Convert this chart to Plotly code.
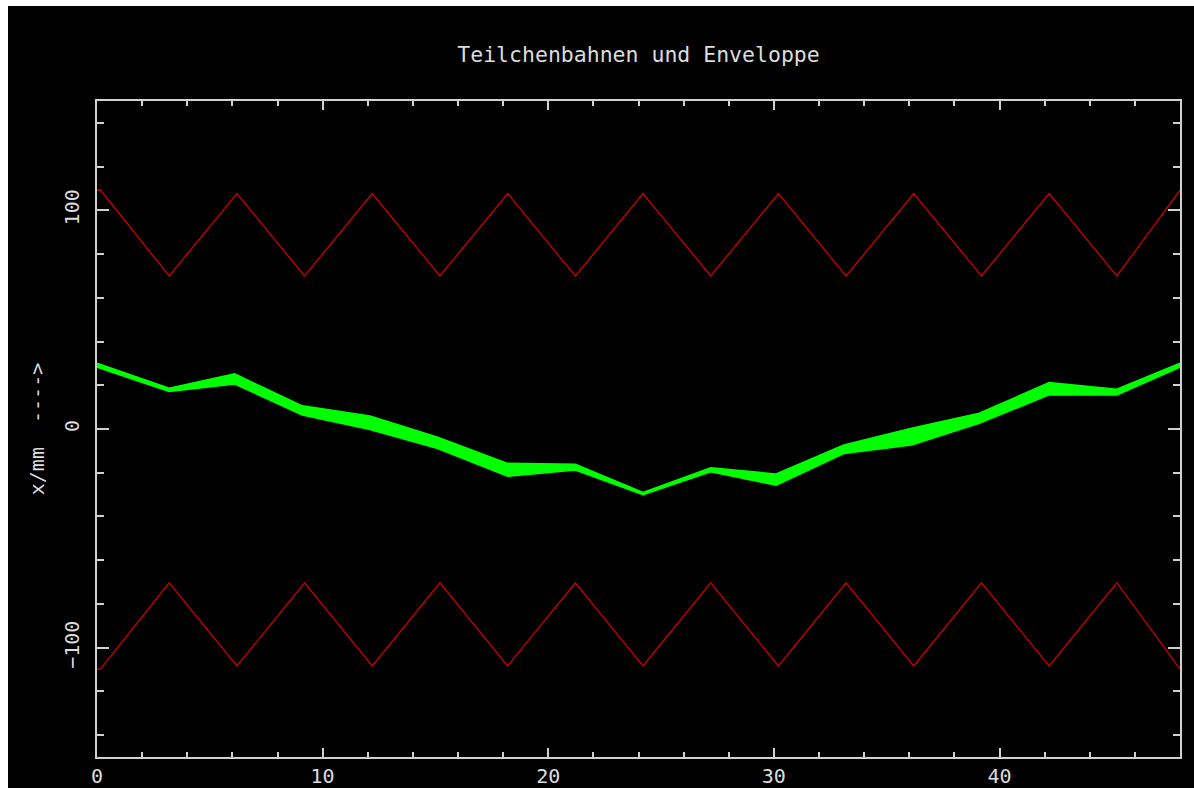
import plotly.graph_objects as go

# ---------------- data ----------------
title_text = "Teilchenbahnen und Enveloppe"
y_title = "x/mm  ---->"

# envelope (red zigzag) : longitudinal position s and upper/lower boundary in mm
env_s = [0, 0.15, 3.2, 6.2, 9.2, 12.2, 15.2, 18.2, 21.2, 24.2, 27.2, 30.2,
         33.2, 36.2, 39.2, 42.2, 45.2, 48]
env_upper = [109.3, 109.3, 70, 107.7, 70, 107.7, 70, 107.7, 70, 107.7, 70, 107.7,
             70, 107.7, 70, 107.7, 70, 109.2]
env_lower = [-109.8, -109.8, -70.3, -108.4, -70.3, -108.4, -70.3, -108.4, -70.3,
             -108.4, -70.3, -108.4, -70.3, -108.4, -70.3, -108.4, -70.3, -109.8]

# particle trajectories (green band): upper and lower edge of the bundle
traj_s = [0, 3.2, 6.1, 9.1, 12.1, 15.1, 18.2, 21.2, 24.2, 27.2, 30.1, 33.1,
          36.1, 39.1, 42.2, 45.2, 48]
traj_upper = [30.1, 18.7, 25.2, 10.6, 6.0, -3.8, -15.7, -16.1, -29.0, -17.7,
              -20.6, -7.3, 0.3, 7.2, 21.2, 18.2, 30.1]
traj_lower = [28.3, 17.1, 20.6, 6.4, -0.2, -8.9, -21.6, -18.8, -30.0, -19.6,
              -25.7, -11.2, -7.3, 2.6, 15.6, 15.6, 28.3]

x_range = [0, 48]
y_range = [-150, 150]

# ---------------- figure ----------------
FONT = "DejaVu Sans Mono"
TXT = "#dcdcdc"
AX = "#d0d0d0"
RED = "#cc0000"
GREEN = "#00ff00"

fig = go.Figure()
fig.add_trace(go.Scatter(x=env_s, y=env_upper, mode="lines",
                         line=dict(color=RED, width=1.3), hoverinfo="skip"))
fig.add_trace(go.Scatter(x=env_s, y=env_lower, mode="lines",
                         line=dict(color=RED, width=1.3), hoverinfo="skip"))
fig.add_trace(go.Scatter(x=traj_s, y=traj_lower, mode="lines",
                         line=dict(color=GREEN, width=1.5), hoverinfo="skip"))
fig.add_trace(go.Scatter(x=traj_s, y=traj_upper, mode="lines", fill="tonexty",
                         fillcolor=GREEN, line=dict(color=GREEN, width=1.5),
                         hoverinfo="skip"))

fig.update_layout(
    width=1186, height=782,
    paper_bgcolor="black", plot_bgcolor="black",
    margin=dict(l=89, r=14, t=95, b=31, autoexpand=False),
    showlegend=False,
    title=dict(text=title_text, x=0.5, xref="paper", xanchor="center",
               y=1 - 48 / 782, yref="container", yanchor="middle",
               font=dict(family=FONT, size=21.5, color=TXT)),
    font=dict(family=FONT, color=TXT),
)

fig.update_xaxes(
    range=x_range, tick0=0, dtick=10, automargin=False,
    showline=True, linecolor=AX, linewidth=1.5, mirror="ticks",
    ticks="inside", ticklen=9, tickwidth=1.5, tickcolor=AX,
    minor=dict(dtick=2, ticks="inside", ticklen=5, tickwidth=1.5, tickcolor=AX),
    showgrid=False, zeroline=False,
    tickfont=dict(family=FONT, size=20, color=TXT),
    ticklabelstandoff=0,
)
fig.update_yaxes(
    range=y_range, tick0=0, dtick=100, automargin=False,
    showline=True, linecolor=AX, linewidth=1.5, mirror="ticks",
    ticks="inside", ticklen=12, tickwidth=1.5, tickcolor=AX,
    minor=dict(dtick=20, ticks="inside", ticklen=7, tickwidth=1.5, tickcolor=AX),
    showgrid=False, zeroline=False,
    tickangle=-90,
    tickfont=dict(family=FONT, size=20, color=TXT),
    ticklabelstandoff=8,
    title=dict(text=y_title, standoff=10,
               font=dict(family=FONT, size=20, color=TXT)),
)

fig.write_html(
    "out.html",
    post_script="document.body.style.margin='6px 0 0 8px';"
                "document.body.style.overflow='hidden';",
)
